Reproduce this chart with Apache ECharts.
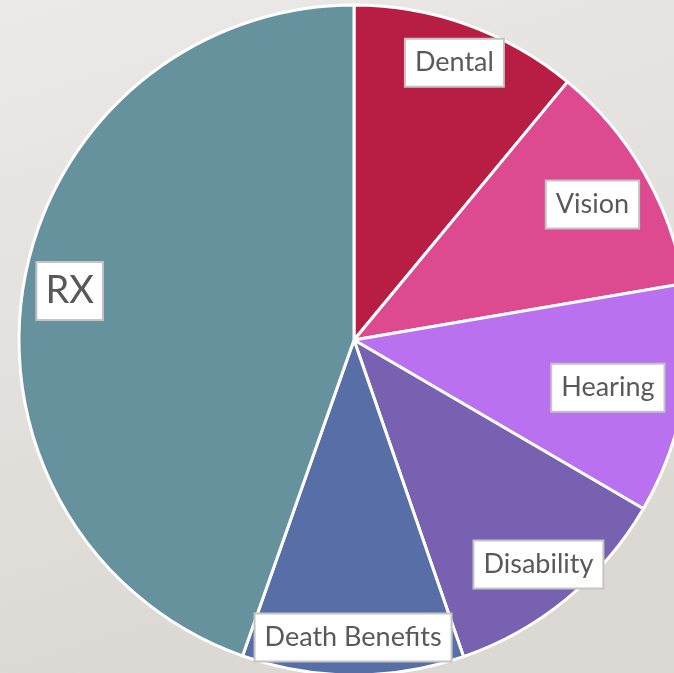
<!DOCTYPE html>
<html><head><meta charset="utf-8">
<script src="https://cdn.jsdelivr.net/npm/echarts@6/dist/echarts.min.js"></script>
<style>html,body{margin:0;padding:0;}#c{width:674px;height:673px;}</style>
</head><body><div id="c"></div>
<script>
const categories = ['Dental','Vision','Hearing','Disability','Death Benefits','RX'];
const values = [11, 11.3, 11.1, 11.3, 10.7, 44.6];
const colors = ['#b81e44','#de4a90','#b971ef','#7861b0','#576ea6','#66929e'];

const chart = echarts.init(document.getElementById('c'));
const labelBox = {
  show: true, position: 'inside', color: '#595959', fontFamily: 'Lato, "Open Sans", sans-serif',
  fontSize: 27, lineHeight: 28, backgroundColor: '#ffffff', borderColor: '#c4c4c4', borderWidth: 2,
  padding: [10, 9, 8, 9]
};
const offsets = [[2,-4],[-13,10],[-32,-4],[0,0],[0,7],[2,0]];
chart.setOption({
  backgroundColor: {type:'linear', x:0, y:0, x2:0.3, y2:1, colorStops:[{offset:0,color:'#ebeae8'},{offset:1,color:'#dcd8d3'}]},
  series: [{
    type: 'pie', center: [354, 340], radius: [0, 335], startAngle: 90, clockwise: true,
    silent: true, label: {show:false}, labelLine:{show:false},
    itemStyle: {borderColor:'#ffffff', borderWidth: 3},
    data: categories.map((c,i)=>({name:c, value: values[i], itemStyle:{color:colors[i]}}))
  },{
    type: 'pie', center: [354, 340], radius: [230, 345], startAngle: 90, clockwise: true,
    silent: true, labelLine:{show:false},
    itemStyle: {color:'rgba(0,0,0,0)'},
    label: labelBox,
    data: categories.map((c,i)=>({name:c, value: values[i],
      label: Object.assign({offset: offsets[i]}, i===5 ? {fontSize: 38, lineHeight: 40, padding:[9,8,7,8]} : {})}))
  }]
});
</script></body></html>
